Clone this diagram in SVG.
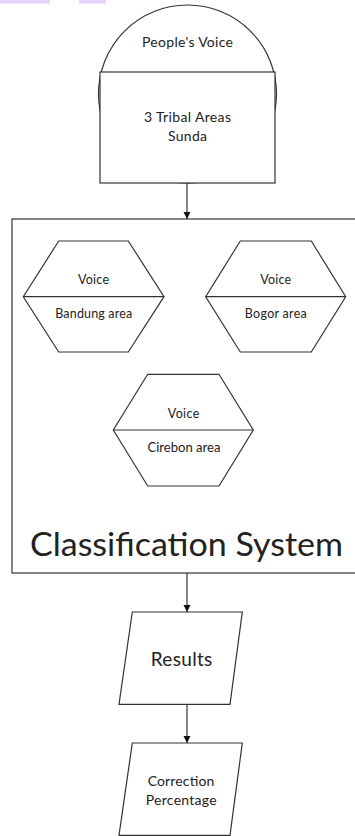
<svg xmlns="http://www.w3.org/2000/svg" width="355" height="836" viewBox="0 0 355 836">
<style>
.s{fill:#fff;stroke:#333;stroke-width:1.2}
.l{fill:none;stroke:#333;stroke-width:1.2}
text{font-family:Lato,"Liberation Sans",Arial,sans-serif;fill:#222;text-anchor:middle}
.t14{font-size:14px}
.t12{font-size:12.5px}
</style>
<defs>
<marker id="ah" markerWidth="8" markerHeight="8" refX="7" refY="4" orient="auto" markerUnits="userSpaceOnUse">
<path d="M0,0.5 L7,4 L0,7.5 Z" fill="#111"/>
</marker>
</defs>
<rect x="0" y="0" width="50" height="3.5" fill="#e6d3f9"/>
<rect x="79" y="0" width="27" height="3.5" fill="#e6d3f9"/>

<g id="connectors">
<line class="l" x1="187" y1="183" x2="187" y2="219" marker-end="url(#ah)"/>
<line class="l" x1="187" y1="573" x2="187" y2="612" marker-end="url(#ah)"/>
<line class="l" x1="187" y1="704" x2="187" y2="743" marker-end="url(#ah)"/>
</g>

<g id="peoples-voice">
<ellipse class="s" cx="187.5" cy="94" rx="89" ry="89"/>
<rect class="s" x="100" y="72" width="175" height="111"/>
<text class="t14" x="187.5" y="47" textLength="91" lengthAdjust="spacing">People's Voice</text>
<text class="t14" x="187.5" y="122" textLength="87" lengthAdjust="spacing">3 Tribal Areas</text>
<text class="t14" x="187.5" y="141" textLength="39" lengthAdjust="spacing">Sunda</text>
</g>

<g id="classification-system">
<rect class="s" x="12" y="219" width="360" height="354"/>
<text x="186.5" y="556" style="font-size:33px" textLength="313" lengthAdjust="spacingAndGlyphs">Classification System</text>
</g>

<g id="bandung">
<polygon class="s" points="58.7,241 128.3,241 164,296.7 128.3,352 58.7,352 23.3,296.7"/>
<line class="l" x1="23.3" y1="296.7" x2="164" y2="296.7"/>
<text class="t12" x="93.5" y="283.5" textLength="31" lengthAdjust="spacing">Voice</text>
<text class="t12" x="93.7" y="317.5" textLength="77" lengthAdjust="spacing">Bandung area</text>
</g>

<g id="bogor">
<polygon class="s" points="240.3,241 311.3,241 345.7,296.7 311.3,352 240.3,352 205.7,296.7"/>
<line class="l" x1="205.7" y1="296.7" x2="345.7" y2="296.7"/>
<text class="t12" x="275.7" y="283.5" textLength="31" lengthAdjust="spacing">Voice</text>
<text class="t12" x="275.8" y="317.5" textLength="62" lengthAdjust="spacing">Bogor area</text>
</g>

<g id="cirebon">
<polygon class="s" points="147.7,374.3 219,374.3 253.3,430 219,486 147.7,486 113.3,430"/>
<line class="l" x1="113.3" y1="430" x2="253.3" y2="430"/>
<text class="t12" x="183.5" y="417.5" textLength="31.5" lengthAdjust="spacing">Voice</text>
<text class="t12" x="184" y="452" textLength="73" lengthAdjust="spacingAndGlyphs">Cirebon area</text>
</g>

<g id="results">
<polygon class="s" points="132.3,612 242.3,612 230,704.3 119,704.3"/>
<text x="181.5" y="666" style="font-size:19px" textLength="61.6" lengthAdjust="spacing">Results</text>
</g>

<g id="correction-percentage">
<polygon class="s" points="132.3,743 242.3,743 230,835.3 119,835.3"/>
<text class="t14" x="181" y="786" textLength="66.7" lengthAdjust="spacing">Correction</text>
<text class="t14" x="181.2" y="805" textLength="71" lengthAdjust="spacing">Percentage</text>
</g>
</svg>
